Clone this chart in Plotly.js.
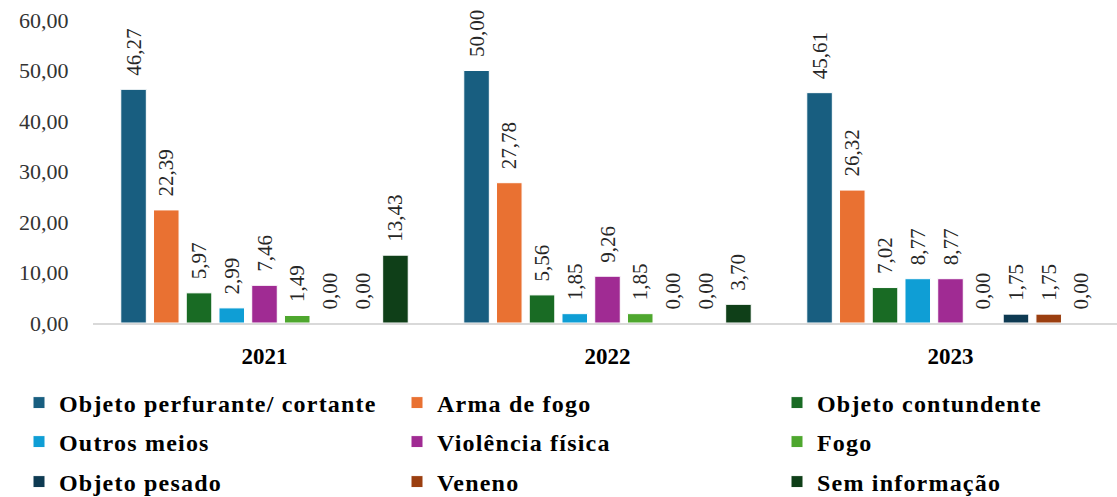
<!DOCTYPE html>
<html><head><meta charset="utf-8">
<script src="https://cdn.plot.ly/plotly-3.0.1.min.js"></script>
<style>
html,body{margin:0;padding:0;background:#fff;overflow:hidden}
#wrap{width:1117px;height:497px;overflow:hidden}
#chart{width:1127px;height:497px}
.infolayer text, text.legendtext{letter-spacing:1.2px !important}
</style>
</head><body><div id="wrap"><div id="chart"></div></div>
<script>
const years = ['2021', '2022', '2023'];
const seriesNames = ['Objeto perfurante/ cortante', 'Arma de fogo', 'Objeto contundente', 'Outros meios', 'Violência física', 'Fogo', 'Objeto pesado', 'Veneno', 'Sem informação'];
const objetoPerfurante = [46.27, 50.00, 45.61];
const armaDeFogo = [22.39, 27.78, 26.32];
const objetoContundente = [5.97, 5.56, 7.02];
const outrosMeios = [2.99, 1.85, 8.77];
const violenciaFisica = [7.46, 9.26, 8.77];
const fogo = [1.49, 1.85, 0.00];
const objetoPesado = [0.00, 0.00, 1.75];
const veneno = [0.00, 0.00, 1.75];
const semInformacao = [13.43, 3.70, 0.00];
const seriesValues = [objetoPerfurante, armaDeFogo, objetoContundente, outrosMeios, violenciaFisica, fogo, objetoPesado, veneno, semInformacao];
const colors = ['#185E80', '#E97132', '#196B24', '#0F9ED5', '#A02B93', '#4EA72E', '#0E3A52', '#9B3F10', '#0F3F18'];

const legendIds = seriesNames.map((n, i) => i === 0 ? 'legend' : 'legend' + (i + 1));
const colX = [19, 397, 777];
const colEntryW = [345, 340, 290];
const rowY = [403, 442, 482];
const plotL = 93, plotW = 1029, plotB = 323, plotH = 303;

const traces = seriesNames.map((n, i) => ({
  type: 'bar', name: n, x: years, y: seriesValues[i],
  marker: {color: colors[i], line: {color: '#ffffff', width: 1}},
  texttemplate: '  %{y:.2f}',
  textposition: 'outside', textangle: -90, cliponaxis: false, constraintext: 'none',
  textfont: {family: 'Liberation Serif', size: 21, color: '#262626'},
  legend: legendIds[i], hoverinfo: 'skip'
}));

const layout = {
  width: 1127, height: 497,
  margin: {l: 93, r: 5, t: 20, b: 174, autoexpand: false},
  paper_bgcolor: '#fff', plot_bgcolor: '#fff',
  separators: ',.',
  barmode: 'group', bargap: 0.141, bargroupgap: 0.22,
  font: {family: 'Liberation Serif', color: '#404040'},
  showlegend: true,
  xaxis: {type: 'category', showline: true, linecolor: '#d9d9d9', linewidth: 2,
    ticks: 'outside', ticklen: 11, tickcolor: 'rgba(0,0,0,0)',
    tickfont: {family: 'Liberation Serif', size: 23, color: '#000', weight: 'bold'}},
  yaxis: {range: [0, 60], dtick: 10, tickformat: '.2f', showgrid: false, zeroline: false,
    showline: false, ticks: 'outside', ticklen: 19, tickcolor: 'rgba(0,0,0,0)',
    tickfont: {family: 'Liberation Serif', size: 22, color: '#333333'}}
};

legendIds.forEach((id, i) => {
  const c = i % 3, r = Math.floor(i / 3);
  layout[id] = {
    orientation: 'h', xanchor: 'left', yanchor: 'middle',
    x: (colX[c] - plotL) / plotW, y: (plotB - rowY[r]) / plotH,
    entrywidth: colEntryW[c], entrywidthmode: 'pixels',
    font: {family: 'Liberation Serif', size: 24, color: '#000', weight: 'bold'},
    bgcolor: 'rgba(0,0,0,0)', borderwidth: 0
  };
});

Plotly.newPlot('chart', traces, layout, {displayModeBar: false, staticPlot: true});
</script></body></html>
